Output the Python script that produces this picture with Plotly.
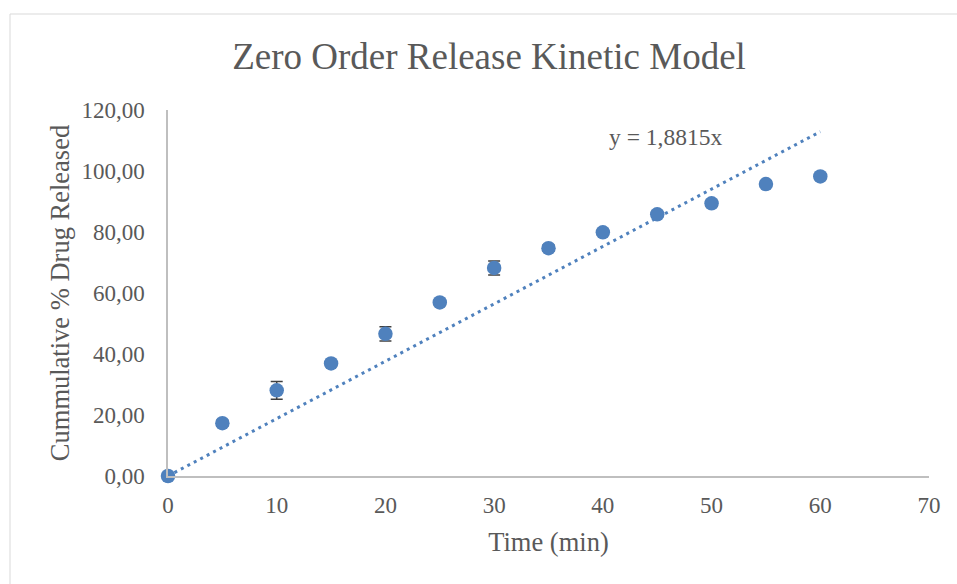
import plotly.graph_objects as go

# Dissolution data: time points (min) and cumulative % drug released
time_min = [0, 5, 10, 15, 20, 25, 30, 35, 40, 45, 50, 55, 60]
released = [0.0, 17.3, 28.1, 36.9, 46.6, 56.9, 68.2, 74.7, 79.9, 85.8, 89.4, 95.7, 98.2]
released_sd = [0.0, 1.0, 2.9, 1.0, 2.3, 1.0, 2.3, 1.0, 1.0, 1.0, 1.0, 1.0, 1.0]

# Zero-order fit through the origin
slope = 1.8815
fit_x = [0, 60]
fit_y = [slope * x for x in fit_x]

title_text = "Zero Order Release Kinetic Model"
x_title = "Time (min)"
y_title = "Cummulative % Drug Released"
eq_text = "y = 1,8815x"

BLUE = "#4F81BD"
TEXT = "#595959"
AXIS = "#BFBFBF"
FONT = "Liberation Serif, Times New Roman, serif"

W, H = 957, 584
L, R, T, B = 168, 28, 110, 108
pw, ph = W - L - R, H - T - B

fig = go.Figure()

fig.add_trace(go.Scatter(
    x=fit_x, y=fit_y, mode="lines",
    line=dict(color=BLUE, width=3, dash="3px,4.3px"),
    hoverinfo="skip", showlegend=False, cliponaxis=False,
))

fig.add_trace(go.Scatter(
    x=time_min, y=released, mode="markers",
    marker=dict(color=BLUE, size=14.5, line=dict(width=0)),
    error_y=dict(type="data", array=released_sd, visible=True,
                 color="#404040", thickness=1.5, width=6),
    showlegend=False, cliponaxis=False,
))

fig.add_annotation(
    x=45.8, y=111.2, xref="x", yref="y", text=eq_text, showarrow=False,
    font=dict(family=FONT, size=23.5, color=TEXT), xanchor="center", yanchor="middle",
)

# Outer chart frame
def px_to_paper_x(px):
    return (px - L) / pw

def px_to_paper_y(py):
    return (H - B - py) / ph

fig.add_shape(
    type="rect", xref="paper", yref="paper",
    x0=px_to_paper_x(10), x1=px_to_paper_x(1010),
    y0=px_to_paper_y(650), y1=px_to_paper_y(14),
    line=dict(color="#D9D9D9", width=1), fillcolor="rgba(0,0,0,0)", layer="below",
)

fig.update_layout(
    width=W, height=H,
    margin=dict(l=L, r=R, t=T, b=B, pad=0),
    paper_bgcolor="white", plot_bgcolor="white",
    separators=",.",
    font=dict(family=FONT, color=TEXT),
    title=dict(
        text=title_text, font=dict(family=FONT, size=37, color=TEXT),
        xref="paper", x=px_to_paper_x(489), xanchor="center",
        yref="container", y=1 - 56 / H, yanchor="middle",
    ),
    xaxis=dict(
        range=[0, 70], dtick=10, tick0=0, showgrid=False, zeroline=False,
        showline=True, linecolor=AXIS, linewidth=1.5, ticks="",
        tickfont=dict(family=FONT, size=23, color=TEXT), ticklabelstandoff=8,
        title=dict(text=x_title, font=dict(family=FONT, size=26.5, color=TEXT), standoff=15),
    ),
    yaxis=dict(
        range=[0, 120], dtick=20, tick0=0, tickformat=".2f", showgrid=False,
        zeroline=False, showline=True, linecolor=AXIS, linewidth=1.5, ticks="",
        tickfont=dict(family=FONT, size=23, color=TEXT), ticklabelstandoff=17,
        title=dict(text=y_title, font=dict(family=FONT, size=26.5, color=TEXT), standoff=4),
    ),
)

fig.write_html("out.html")
